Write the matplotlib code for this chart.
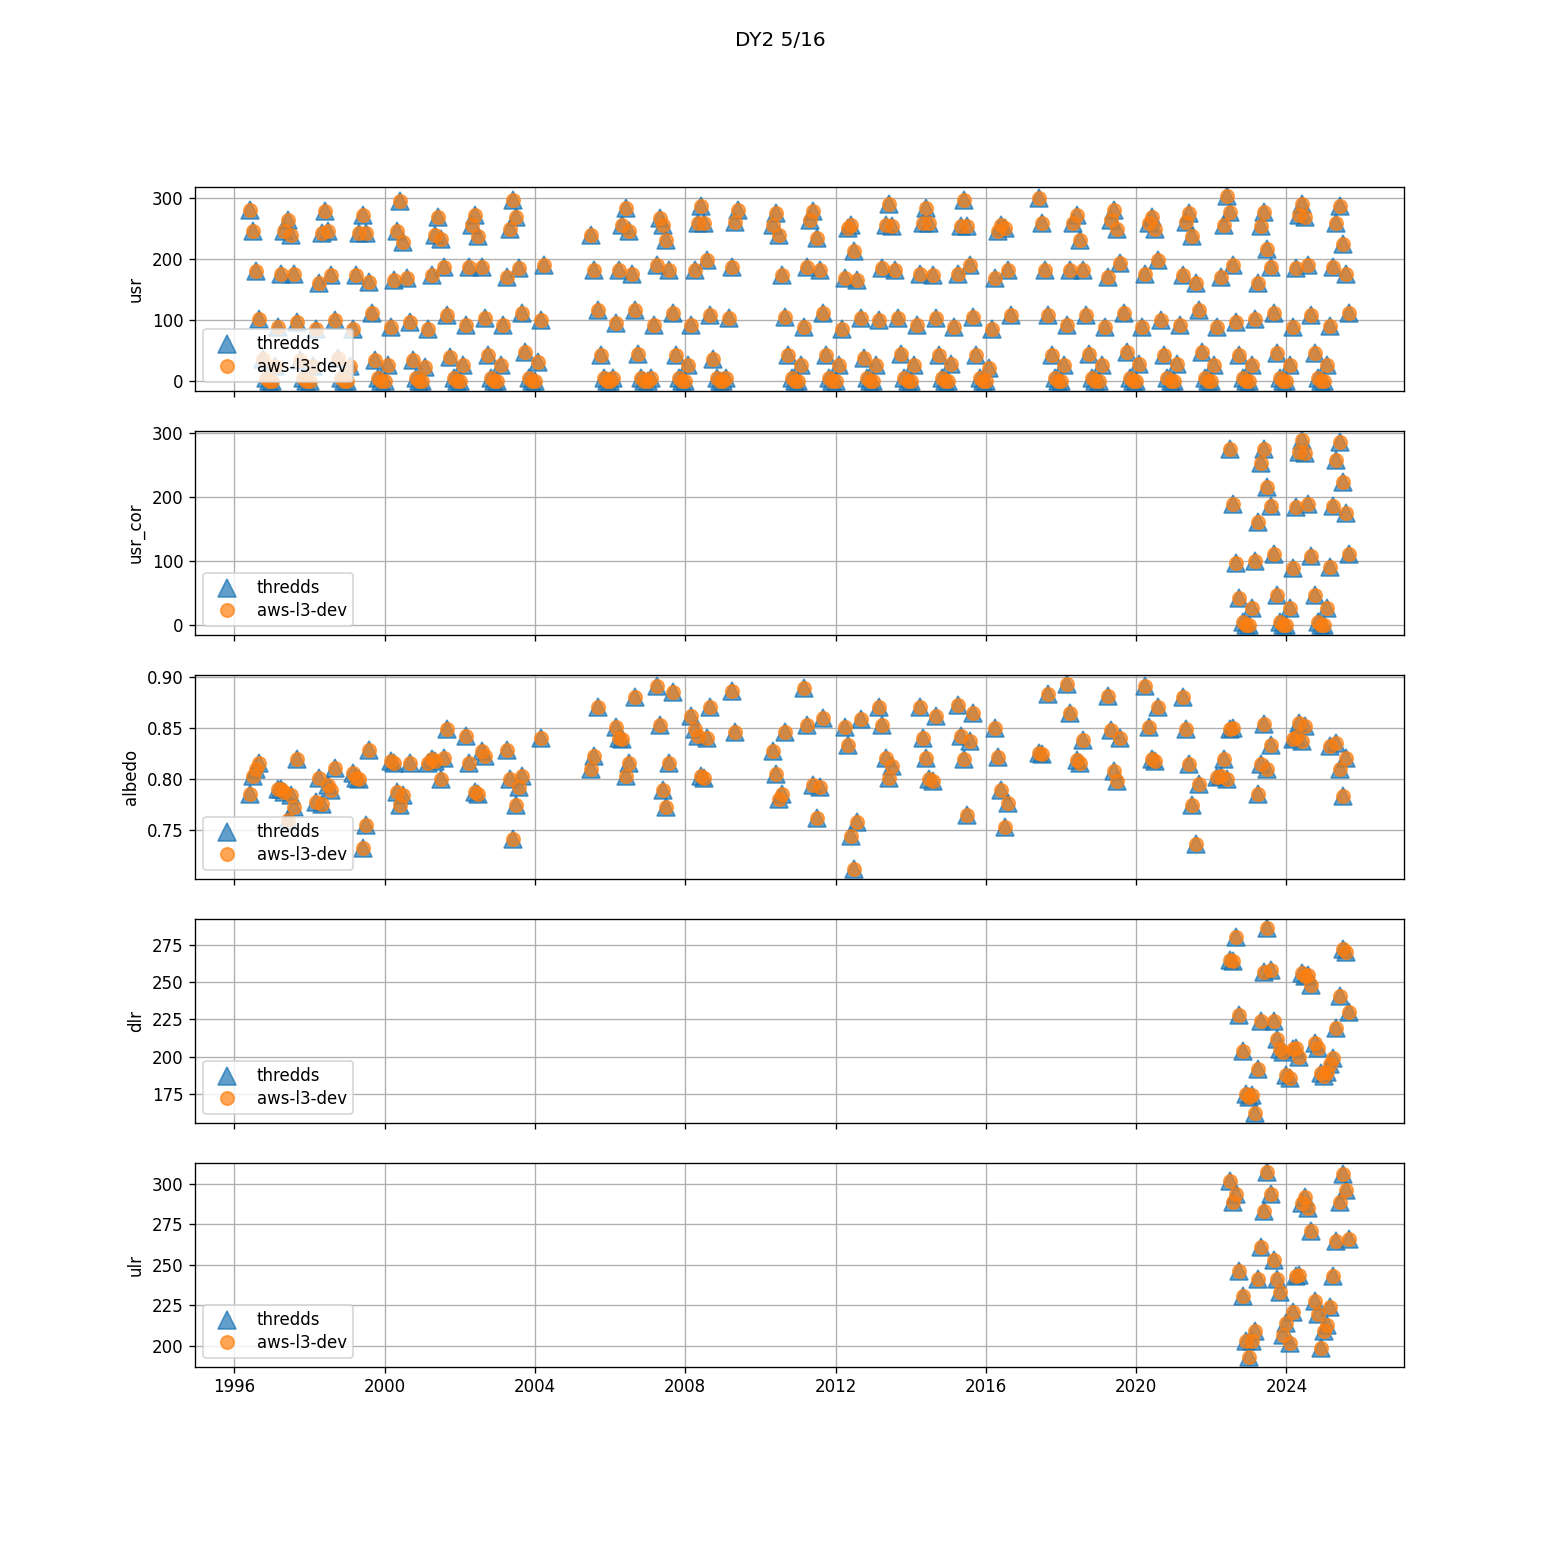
import numpy as np
import pandas as pd
import matplotlib
matplotlib.use("Agg")
import matplotlib.pyplot as plt

N = None  # month without data

# usr, monthly means (Jan..Dec), one row per year 1996-2025
usr_years = list(range(1996, 2026))
usr_rows = [
    [N, N, N, N, N, 280, 245, 180, 101, 37, 5, 0],       # 1996
    [0, 25, 89, 176, 245, 264, 239, 176, 97, 35, 5, 0],   # 1997
    [1, 25, 86, 160, 242, 278, 245, 174, 100, 38, 5, 0],  # 1998
    [0, 25, 85, 174, 242, 272, 242, 163, 111, 34, 5, 0],  # 1999
    [0, 26, 89, 166, 245, 294, 228, 168, 97, 34, 5, 0],   # 2000
    [0, 23, 86, 174, 239, 269, 232, 187, 108, 40, 5, 0],  # 2001
    [0, 26, 92, 187, 256, 272, 237, 187, 103, 43, 5, 0],  # 2002
    [0, 26, 92, 171, 248, 297, 269, 185, 111, 48, 5, 0],  # 2003
    [0, 32, 100, 190, N, N, N, N, N, N, N, N],            # 2004
    [N, N, N, N, N, N, 239, 182, 116, 43, 5, 0],          # 2005
    [0, 5, 95, 182, 256, 283, 245, 176, 116, 44, 5, 0],   # 2006
    [0, 5, 92, 190, 267, 256, 231, 182, 111, 43, 5, 0],   # 2007
    [0, 26, 92, 182, 258, 286, 258, 198, 108, 37, 5, 0],  # 2008
    [0, 5, 103, 187, 261, 280, N, N, N, N, N, N],         # 2009
    [N, N, N, N, 256, 275, 239, 174, 105, 43, 5, 0],      # 2010
    [0, 26, 89, 187, 264, 278, 234, 182, 111, 43, 5, 0],  # 2011
    [0, 26, 86, 168, 250, 255, 213, 166, 103, 38, 5, 0],  # 2012
    [0, 26, 100, 185, 256, 289, 253, 182, 103, 45, 5, 0], # 2013
    [0, 26, 92, 176, 258, 283, 258, 174, 103, 43, 5, 0],  # 2014
    [0, 29, 89, 176, 253, 297, 253, 190, 105, 43, 5, 0],  # 2015
    [0, 21, 86, 168, 245, 256, 250, 182, 109, N, N, N],   # 2016
    [N, N, N, N, N, 299, 258, 182, 108, 43, 5, 0],        # 2017
    [0, 26, 92, 182, 258, 272, 231, 182, 108, 45, 5, 0],  # 2018
    [0, 26, 89, 171, 264, 280, 248, 193, 111, 48, 5, 0],  # 2019
    [0, 29, 89, 176, 258, 269, 248, 198, 100, 43, 5, 0],  # 2020
    [0, 29, 92, 174, 261, 275, 237, 160, 116, 48, 5, 0],  # 2021
    [0, 26, 89, 171, 256, 302, 276, 190, 97, 43, 5, 0],   # 2022
    [0, 27, 101, 161, 253, 276, 216, 187, 112, 47, 5, 0], # 2023
    [0, 27, 89, 185, 271, 289, 269, 190, 109, 47, 5, 0],  # 2024
    [0, 27, 91, 187, 258, 287, 224, 175, 112, N, N, N],   # 2025
]

# albedo, Mar..Sep, one row per year 1996-2025
albedo_rows = [
    [N, N, N, 0.786, 0.803, 0.810, 0.816],          # 1996
    [0.791, 0.791, 0.788, 0.760, 0.785, 0.773, 0.820],
    [0.778, 0.801, 0.776, N, 0.795, 0.790, 0.811],
    [0.806, 0.801, 0.800, 0.733, 0.755, 0.829, N],
    [0.818, 0.816, 0.788, 0.775, 0.785, N, 0.816],  # 2000
    [0.816, 0.820, 0.818, N, 0.800, 0.821, 0.849],
    [0.843, 0.816, N, 0.788, 0.786, 0.828, 0.823],
    [N, 0.829, 0.800, 0.742, 0.775, 0.793, 0.803],
    [0.841, N, N, N, N, N, N],
    [N, N, N, N, 0.810, 0.823, 0.871],              # 2005
    [0.851, 0.841, 0.840, 0.803, 0.816, N, 0.881],
    [N, 0.891, 0.853, 0.790, 0.773, 0.816, 0.886],
    [0.862, 0.849, 0.843, 0.803, 0.801, 0.841, 0.871],
    [N, 0.887, 0.846, N, N, N, N],
    [N, N, 0.828, 0.805, 0.781, 0.786, 0.846],      # 2010
    [0.890, 0.853, N, 0.795, 0.762, 0.793, 0.860],
    [N, 0.851, 0.834, 0.745, 0.712, 0.758, 0.859],
    [0.871, 0.853, 0.821, 0.801, 0.813, N, N],
    [N, 0.871, 0.841, 0.821, 0.800, 0.798, 0.862],
    [N, 0.873, 0.843, 0.820, 0.765, 0.838, 0.865],  # 2015
    [N, 0.850, 0.822, 0.790, 0.753, 0.777, N],
    [N, N, N, 0.826, 0.825, N, 0.884],
    [0.893, 0.865, N, 0.819, 0.816, 0.839, N],
    [N, 0.882, 0.848, 0.808, 0.798, 0.841, N],
    [N, 0.891, 0.851, 0.820, 0.818, 0.871, N],      # 2020
    [N, 0.881, 0.849, 0.815, 0.775, 0.737, 0.796],
    [0.802, 0.803, 0.820, 0.800, 0.849, 0.850, N],
    [N, 0.786, 0.815, 0.854, 0.810, 0.834, N],
    [0.840, 0.842, 0.855, 0.838, 0.852, N, N],
    [0.833, N, 0.836, 0.810, 0.784, 0.821, N],      # 2025
]

# newer variables, monthly from Jul 2022 to Sep 2025
recent_start = "2022-07-01"
usr_cor = [276, 190, 97, 43, 5, 0,
           0, 27, 101, 161, 253, 276, 216, 187, 112, 47, 5, 0,
           0, 27, 89, 185, 271, 289, 269, 190, 109, 47, 5, 0,
           0, 27, 91, 187, 258, 287, 224, 175, 112]
dlr = [265, 264, 280, 228, 204, 175,
       173, 174, 162, 192, 224, 257, 286, 258, 224, 212, 205, 203,
       188, 186, 205, 206, 200, 256, 254, 255, 248, 209, 206, 189,
       187, 190, 195, 199, 219, 241, 272, 270, 230]
ulr = [302, 289, 294, 246, 231, 203,
       193, 203, 209, 241, 261, 283, 307, 294, 253, 241, 233, 207,
       214, 202, 221, 243, 244, 288, 292, 285, 271, 228, 220, 199,
       209, 213, 224, 243, 265, 289, 306, 296, 266]

# aws-l3-dev reproduces thredds
aws_usr_rows = usr_rows
aws_albedo_rows = albedo_rows
aws_usr_cor, aws_dlr, aws_ulr = usr_cor, dlr, ulr


def by_year(rows, first_month):
    dates, vals = [], []
    for year, row in zip(usr_years, rows):
        for i, v in enumerate(row):
            dates.append(pd.Timestamp(year, first_month + i, 1))
            vals.append(v)
    return dates, np.array(vals, dtype=float)


def recent(vals):
    dates = pd.date_range(recent_start, periods=len(vals), freq="MS")
    return dates, np.array(vals, dtype=float)


panels = [
    ("usr", by_year(usr_rows, 1), by_year(aws_usr_rows, 1)),
    ("usr_cor", recent(usr_cor), recent(aws_usr_cor)),
    ("albedo", by_year(albedo_rows, 3), by_year(aws_albedo_rows, 3)),
    ("dlr", recent(dlr), recent(aws_dlr)),
    ("ulr", recent(ulr), recent(aws_ulr)),
]

dpi = 120
fig, axes = plt.subplots(5, 1, sharex=True, figsize=(1560 / dpi, 1560 / dpi))
fig.subplots_adjust(left=0.125, right=0.9, top=0.88, bottom=0.124, hspace=0.2)

for ax, (name, (d1, v1), (d2, v2)) in zip(axes, panels):
    ax.plot(d1, v1, "^", ms=10.5, color="C0", alpha=0.7, label="thredds")
    ax.plot(d2, v2, "o", ms=8, color="C1", alpha=0.7, label="aws-l3-dev")
    ax.set_ylabel(name)
    ax.grid(True)
    ax.legend(loc="lower left", labelspacing=0.25)

fig.suptitle("DY2 5/16")
fig.savefig("out.png", dpi=dpi)
